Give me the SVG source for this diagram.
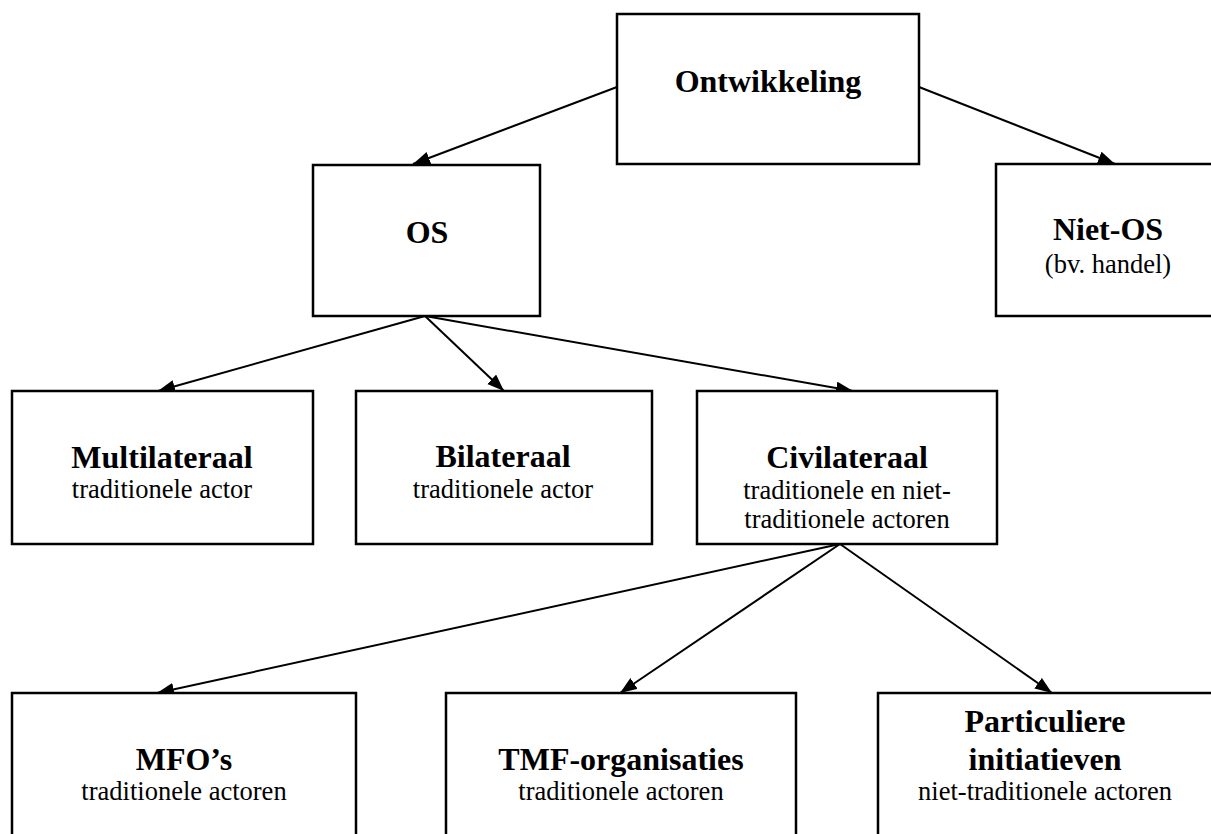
<svg xmlns="http://www.w3.org/2000/svg" width="1211" height="834" viewBox="0 0 1211 834">
<style>
.box{fill:#fff;stroke:#000;stroke-width:2.5}
text{font-family:'Liberation Serif','Times New Roman','DejaVu Serif',serif;text-anchor:middle;fill:#000}
.t{font-weight:bold;font-size:32px}
.s{font-size:26.5px}
.c{stroke:#000;stroke-width:2;fill:none;marker-end:url(#ah)}
</style>
<defs>
<marker id="ah" markerUnits="userSpaceOnUse" markerWidth="18" markerHeight="14" refX="17" refY="6.5" orient="auto">
<path d="M0,0 L17,6.5 L0,13 z" fill="#000"/>
</marker>
</defs>
<rect width="1211" height="834" fill="#fff"/>
<g id="connectors">
<line class="c" x1="617" y1="87" x2="413" y2="164"/>
<line class="c" x1="919" y1="87" x2="1115" y2="164"/>
<line class="c" x1="425" y1="316" x2="158" y2="391"/>
<line class="c" x1="425" y1="316" x2="504" y2="391"/>
<line class="c" x1="425" y1="316" x2="853" y2="391"/>
<line class="c" x1="840" y1="544" x2="157" y2="693"/>
<line class="c" x1="840" y1="544" x2="620" y2="693"/>
<line class="c" x1="840" y1="544" x2="1052" y2="693"/>
</g>
<g id="ontwikkeling">
<rect class="box" x="617" y="14" width="302" height="150"/>
<text class="t" x="768" y="92" font-family="Liberation Serif">Ontwikkeling</text>
</g>
<g id="os">
<rect class="box" x="313" y="165" width="227" height="151"/>
<text class="t" x="427" y="243">OS</text>
</g>
<g id="niet-os">
<rect class="box" x="996" y="164" width="230" height="152"/>
<text class="t" x="1108" y="240">Niet-OS</text>
<text class="s" x="1108" y="273">(bv. handel)</text>
</g>
<g id="multilateraal">
<rect class="box" x="12" y="391" width="301" height="153"/>
<text class="t" x="162" y="468">Multilateraal</text>
<text class="s" x="162" y="498">traditionele actor</text>
</g>
<g id="bilateraal">
<rect class="box" x="356" y="391" width="296" height="153"/>
<text class="t" x="503" y="467">Bilateraal</text>
<text class="s" x="503" y="498">traditionele actor</text>
</g>
<g id="civilateraal">
<rect class="box" x="697" y="391" width="300" height="153"/>
<text class="t" x="847" y="468">Civilateraal</text>
<text class="s" x="847" y="499">traditionele en niet-</text>
<text class="s" x="847" y="528">traditionele actoren</text>
</g>
<g id="mfos">
<rect class="box" x="12" y="693" width="344" height="160"/>
<text class="t" x="184" y="770">MFO’s</text>
<text class="s" x="184" y="800">traditionele actoren</text>
</g>
<g id="tmf">
<rect class="box" x="446" y="693" width="350" height="160"/>
<text class="t" x="621" y="770">TMF-organisaties</text>
<text class="s" x="621" y="800">traditionele actoren</text>
</g>
<g id="particuliere">
<rect class="box" x="878" y="693" width="340" height="160"/>
<text class="t" x="1045" y="732">Particuliere</text>
<text class="t" x="1045" y="770">initiatieven</text>
<text class="s" x="1045" y="800">niet-traditionele actoren</text>
</g>
</svg>
